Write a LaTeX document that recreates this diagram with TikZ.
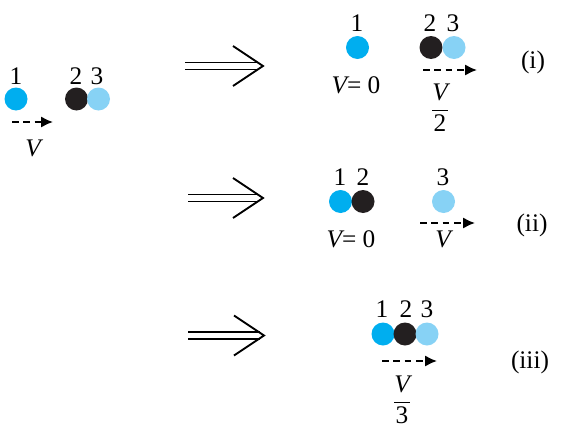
\documentclass[tikz,border=0pt]{standalone}
\usepackage{fontspec}
\setmainfont{Liberation Serif}
\usetikzlibrary{arrows, arrows.meta, positioning}

\definecolor{ballcyan}{RGB}{0,174,239}
\definecolor{ballblack}{RGB}{35,31,32}
\definecolor{balllight}{RGB}{135,210,245}

\tikzset{
  ball/.style={circle, inner sep=0pt, minimum size=17.25pt},
  num/.style={inner sep=0pt, font=\fontsize{19}{22}\selectfont},
  vel/.style={draw, dash pattern=on 5pt off 3.5pt, line width=1.5pt, -{Latex[length=9pt, width=8.5pt]}},
  implies/.style={draw, double, double distance=4pt, line width=1.2pt},
  impliestip/.style={draw, line width=1.4pt},
}

\begin{document}
\begin{tikzpicture}[x=0.75pt, y=-0.75pt]
\useasboundingbox (0,0) rectangle (567,432);

% before the collision
\node [ball, fill=ballcyan  ] (a1) at (16,99)   {};
\node [ball, fill=ballblack ] (a2) at (76.5,99) {};
\node [ball, fill=balllight ] (a3) at (98.5,99) {};
\node [num] (na1) at (16,76) {1};
\node [num] (na2) at (76,76) {2};
\node [num] (na3) at (97,76) {3};
\coordinate (va0) at (12,122);
\coordinate (va1) at (53,122);
\path [vel] (va0) -- (va1);
\node [num] (la) at (33,148) {\itshape V};

% the three outcomes
\coordinate (s1) at (185,66);    \coordinate (t1) at (263,66);
\coordinate (s2) at (188,198);   \coordinate (t2) at (263,198);
\coordinate (s3) at (188,335.5); \coordinate (t3) at (264,335.5);

\path [implies] (s1) -- ([xshift=-3]t1.center);
\path [implies] (s2) -- ([xshift=-3]t2.center);
\path [implies] (s3) -- ([xshift=-3]t3.center);
\path [impliestip] (t1) ++(-30,-20) -- (t1) -- ++(-30,20);
\path [impliestip] (t2) ++(-30,-20) -- (t2) -- ++(-30,20);
\path [impliestip] (t3) ++(-30,-20) -- (t3) -- ++(-30,20);

% (i)
\node [ball, fill=ballcyan  ] (i1) at (357.5,47.5) {};
\node [ball, fill=ballblack ] (i2) at (431,47.5)   {};
\node [ball, fill=balllight ] (i3) at (454,47.5)   {};
\node [num] (ni1) at (357,23) {1};
\node [num] (ni2) at (430,23) {2};
\node [num] (ni3) at (453,23) {3};
\node [num] (li1) at (356,85) {{\itshape V}= 0};
\coordinate (vi0) at (423,70);
\coordinate (vi1) at (477,70);
\path [vel] (vi0) -- (vi1);
\node [num] (li2) at (440,108) {$\displaystyle\frac{\mbox{\itshape V}}{\mbox{2}}$};
\node [num] (ci) at (533,62) {(i)};

% (ii)
\node [ball, fill=ballcyan  ] (j1) at (340.5,201.5) {};
\node [ball, fill=ballblack ] (j2) at (363,201.5)   {};
\node [ball, fill=balllight ] (j3) at (443.5,201.5) {};
\node [num] (nj1) at (340,177) {1};
\node [num] (nj2) at (363,177) {2};
\node [num] (nj3) at (443,177) {3};
\node [num] (lj1) at (351,239) {{\itshape V}= 0};
\coordinate (vj0) at (420,223);
\coordinate (vj1) at (475,223);
\path [vel] (vj0) -- (vj1);
\node [num] (lj2) at (443,239) {\itshape V};
\node [num] (cj) at (532,225) {(ii)};

% (iii)
\node [ball, fill=ballcyan  ] (k1) at (383,334) {};
\node [ball, fill=ballblack ] (k2) at (405,334) {};
\node [ball, fill=balllight ] (k3) at (427,334) {};
\node [num] (nk1) at (382,309) {1};
\node [num] (nk2) at (406,309) {2};
\node [num] (nk3) at (427,309) {3};
\coordinate (vk0) at (382,361);
\coordinate (vk1) at (437,361);
\path [vel] (vk0) -- (vk1);
\node [num] (lk2) at (402,400) {$\displaystyle\frac{\mbox{\itshape V}}{\mbox{3}}$};
\node [num] (ck) at (530,362) {(iii)};

\end{tikzpicture}
\end{document}
